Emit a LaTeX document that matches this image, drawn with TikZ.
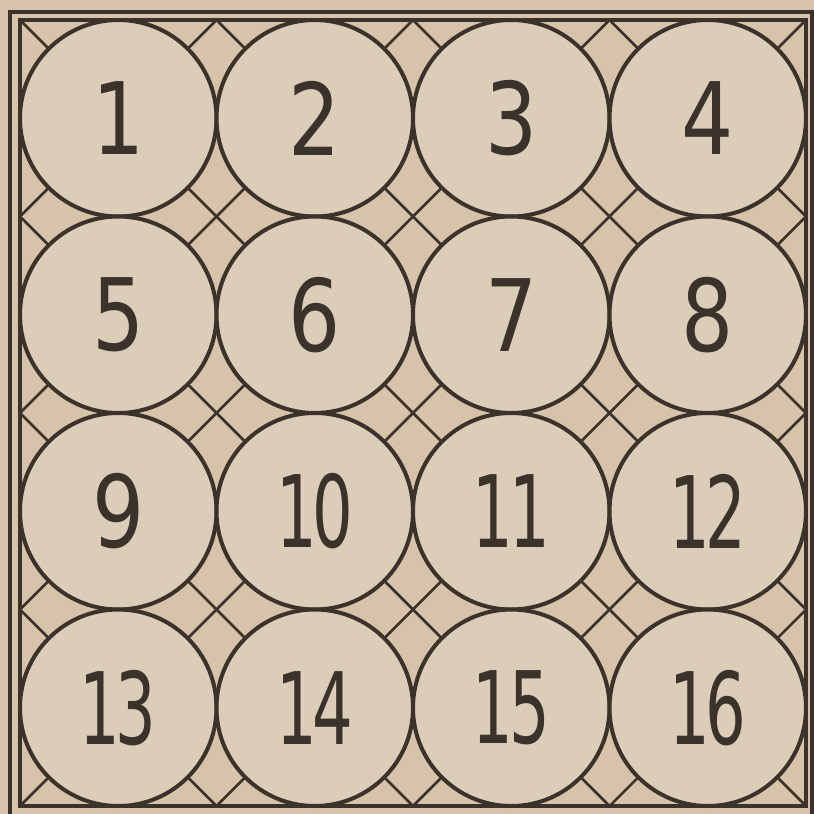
\documentclass[tikz,border=0pt]{standalone}
\usepackage{fontspec}
\usepackage{graphicx}
\newfontfamily\digitfont{DejaVu Sans}
\definecolor{paper}{HTML}{D6C3A9}
\definecolor{discfill}{HTML}{DCCDB9}
\definecolor{ink}{HTML}{3A322B}
\newcommand{\dgone}[1]{\scalebox{0.82}[1]{#1}}
\newcommand{\dgtwo}[2]{\scalebox{0.64}[1]{#1\kern-0.07em#2}}
\begin{document}
\begin{tikzpicture}[x=0.5pt,y=-0.5pt,
  lat/.style={draw=ink,line width=1.25pt},
  frameline/.style={draw=ink,line width=2pt},
  disc/.style={circle,draw=ink,line width=2pt,fill=discfill,minimum size=98.25pt,inner sep=0pt,text=ink,font={\digitfont\fontsize{50}{50}\selectfont}}]
\fill[paper] (0,0) rectangle (814,814);
\useasboundingbox (0,0) rectangle (814,814);
\begin{scope}
  \clip (20,20) rectangle (806,806);
  \foreach \k in {-4,...,4} {
    \draw[lat] (-200,{-200-196.5*\k}) -- (1000,{1000-196.5*\k});
  }
  \foreach \m in {0,...,8} {
    \draw[lat] (-200,{240+196.5*\m}) -- (1000,{-960+196.5*\m});
  }
\end{scope}
\node[disc] (n1)  at (118.25,118.25) {\dgone{1}};
\node[disc] (n2)  at (314.75,118.25) {\dgone{2}};
\node[disc] (n3)  at (511.25,118.25) {\dgone{3}};
\node[disc] (n4)  at (707.75,118.25) {\dgone{4}};
\node[disc] (n5)  at (118.25,314.75) {\dgone{5}};
\node[disc] (n6)  at (314.75,314.75) {\dgone{6}};
\node[disc] (n7)  at (511.25,314.75) {\dgone{7}};
\node[disc] (n8)  at (707.75,314.75) {\dgone{8}};
\node[disc] (n9)  at (118.25,511.25) {\dgone{9}};
\node[disc] (n10) at (314.75,511.25) {\dgtwo{1}{0}};
\node[disc] (n11) at (511.25,511.25) {\dgtwo{1}{1}};
\node[disc] (n12) at (707.75,511.25) {\dgtwo{1}{2}};
\node[disc] (n13) at (118.25,707.75) {\dgtwo{1}{3}};
\node[disc] (n14) at (314.75,707.75) {\dgtwo{1}{4}};
\node[disc] (n15) at (511.25,707.75) {\dgtwo{1}{5}};
\node[disc] (n16) at (707.75,707.75) {\dgtwo{1}{6}};
\draw[frameline] (20,20) rectangle (806,806);
\draw[frameline] (10,12) rectangle (812,818);
\end{tikzpicture}
\end{document}
